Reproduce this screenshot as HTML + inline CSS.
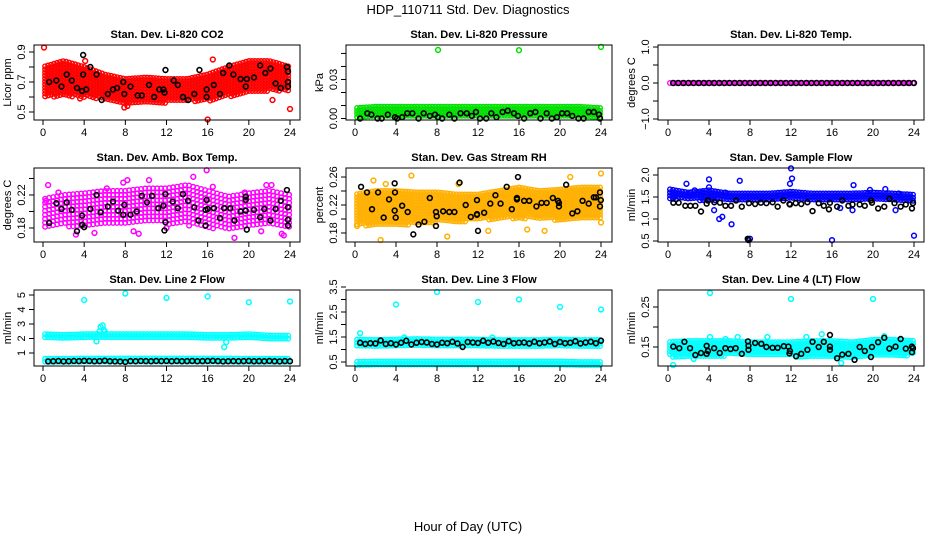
<!DOCTYPE html>
<html><head><meta charset="utf-8"><style>
body{margin:0;background:#fff}
svg{display:block;font-family:"Liberation Sans",sans-serif}
</style></head><body>
<svg id="c" width="936" height="540" viewBox="0 0 936 540">
<text x="468" y="14" text-anchor="middle" font-size="13">HDP_110711  Std. Dev. Diagnostics</text>
<text x="468" y="531" text-anchor="middle" font-size="13">Hour of Day (UTC)</text>
</svg>
<script>
// ---------- data ----------
const xTicks = [0,4,8,12,16,20,24];
const cloudHours = [0,2,4,6,8,10,12,14,16,18,20,22,24];

// P1 CO2
const co2Lo = [0.6,0.6,0.6,0.58,0.56,0.55,0.56,0.57,0.57,0.6,0.62,0.64,0.64];
const co2Hi = [0.8,0.84,0.8,0.75,0.72,0.73,0.72,0.72,0.75,0.8,0.84,0.84,0.8];
const co2OutX = [0.1,16,24,22.3,16.5,4.1,7.9,8.2,3.6];
const co2OutY = [0.93,0.45,0.52,0.58,0.85,0.84,0.53,0.54,0.59];
const co2BlkX = [0.6,1.3,1.8,2.3,2.8,3.3,3.8,3.9,3.9,4.2,4.6,5.2,5.7,6.3,6.8,7.2,7.8,7.9,8.5,9.2,9.6,10.3,10.8,11.3,11.7,11.8,11.9,12.7,13.1,13.6,14.1,14.7,15.2,15.9,15.9,16.6,17.2,17.5,18.1,18.5,19.2,19.7,19.8,20.5,21.1,21.6,22.1,22.6,23.1,23.7,23.8,23.8,23.8];
const co2BlkY = [0.70,0.71,0.67,0.75,0.71,0.66,0.64,0.75,0.88,0.65,0.80,0.75,0.58,0.62,0.65,0.66,0.70,0.62,0.67,0.61,0.61,0.68,0.60,0.65,0.65,0.63,0.78,0.71,0.68,0.60,0.58,0.62,0.78,0.65,0.60,0.68,0.62,0.76,0.81,0.75,0.72,0.67,0.72,0.73,0.81,0.76,0.79,0.69,0.66,0.80,0.77,0.70,0.67];

// P2 Pressure
const prLo = [0,0,0,0,0,0,0,0,0,0,0,0,0];
const prHi = [0.008,0.009,0.009,0.009,0.009,0.009,0.009,0.009,0.009,0.009,0.009,0.009,0.008];
const prOutX = [8.1,16,24];
const prOutY = [0.0527,0.0525,0.055];
const prBlkX = [0.5,1.2,1.6,2.2,2.6,3.2,3.9,4.1,4.6,5.1,5.6,6.2,6.7,7.3,7.8,8.1,8.5,9.2,9.7,10.3,10.9,11.4,11.8,12.2,12.8,13.3,13.8,14.4,14.9,15.5,15.9,16.5,17.1,17.6,18.1,18.7,19.2,19.7,20.2,20.7,21.2,21.8,22.3,22.8,23.3,23.8,23.9];
const prBlkY = [0.000,0.004,0.003,0.000,0.000,0.003,0.001,0.000,0.001,0.004,0.004,0.000,0.004,0.002,0.003,0.001,0.000,0.003,0.000,0.004,0.004,0.002,0.005,0.000,0.000,0.004,0.001,0.005,0.006,0.004,0.002,0.000,0.004,0.005,0.000,0.004,0.000,0.001,0.004,0.004,0.002,0.000,0.000,0.005,0.005,0.003,0.000];

// P3 Li-820 Temp
const tpLo = [0,0,0,0,0,0,0,0,0,0,0,0,0];
const tpHi = [0,0,0,0,0,0,0,0,0,0,0,0,0];
const tpBlkX = [0.5,1,1.5,2,2.5,3,3.5,4,4.5,5,5.5,6,6.5,7,7.5,8,8.5,9,9.5,10,10.5,11,11.5,12,12.5,13,13.5,14,14.5,15,15.5,16,16.5,17,17.5,18,18.5,19,19.5,20,20.5,21,21.5,22,22.5,23,23.5,24];
const tpBlkY = [0,0,0,0,0,0,0,0,0,0,0,0,0,0,0,0,0,0,0,0,0,0,0,0,0,0,0,0,0,0,0,0,0,0,0,0,0,0,0,0,0,0,0,0,0,0,0,0];

// P4 Amb box temp
const abLo = [0.18,0.182,0.18,0.183,0.185,0.188,0.185,0.183,0.18,0.178,0.18,0.182,0.18];
const abHi = [0.215,0.22,0.222,0.225,0.225,0.228,0.228,0.232,0.225,0.218,0.222,0.225,0.22];
const abOutX = [0.3,0.5,1.5,3.2,5.0,6.2,7.8,8.2,8.8,9.3,10.3,12.0,14.6,15.9,16.5,18.6,19.6,21.2,21.7,22.2,23.2,23.4];
const abOutY = [0.213,0.232,0.223,0.172,0.174,0.228,0.235,0.238,0.176,0.173,0.238,0.180,0.242,0.25,0.23,0.168,0.223,0.176,0.232,0.232,0.173,0.171];
const abBlkX = [0.6,1.3,1.8,2.3,2.8,3.3,3.8,3.8,4.0,4.6,5.2,5.6,6.3,6.8,7.3,7.8,7.9,8.5,9.1,9.6,10.1,10.6,11.2,11.7,11.8,11.9,11.9,12.6,13.1,13.6,14.1,14.7,15.1,15.8,15.8,16.0,15.9,16.6,17.2,17.6,18.2,18.6,19.2,19.7,19.7,19.7,19.8,20.5,21.1,21.5,22.1,22.6,23.1,23.7,23.8,23.8,23.8];
const abBlkY = [0.186,0.21,0.203,0.211,0.202,0.176,0.195,0.184,0.181,0.203,0.22,0.199,0.206,0.212,0.201,0.196,0.208,0.196,0.2,0.219,0.211,0.219,0.204,0.207,0.177,0.187,0.221,0.212,0.204,0.221,0.213,0.205,0.189,0.183,0.202,0.203,0.214,0.204,0.192,0.204,0.204,0.189,0.2,0.201,0.214,0.218,0.178,0.202,0.193,0.203,0.189,0.203,0.213,0.226,0.205,0.19,0.183];

// P5 Gas stream RH
const rhLo = [0.19,0.19,0.19,0.192,0.195,0.195,0.198,0.2,0.2,0.2,0.198,0.198,0.198];
const rhHi = [0.235,0.24,0.24,0.238,0.238,0.235,0.235,0.24,0.245,0.24,0.242,0.245,0.245];
const rhOutX = [2.5,5.5,24,21,9,13,0.2,24,18.5,1.8,3,10.1,16.8];
const rhOutY = [0.17,0.262,0.265,0.26,0.175,0.183,0.19,0.195,0.183,0.255,0.25,0.25,0.185];
const rhBlkX = [0.59,1.17,1.66,2.25,2.8,3.32,3.87,3.9,3.87,3.97,4.6,5.14,5.69,6.2,6.77,7.3,7.9,7.97,7.9,8.6,9.2,9.7,10.2,10.8,11.3,11.9,11.9,11.9,12.0,12.6,13.2,13.7,14.2,14.8,15.3,15.9,15.8,15.8,16.5,17.0,17.7,18.2,18.7,19.3,19.8,19.9,19.9,20.6,21.2,21.7,22.2,22.8,23.3,23.9,23.9,23.98,23.5];
const rhBlkY = [0.246,0.238,0.214,0.238,0.202,0.228,0.251,0.238,0.212,0.202,0.219,0.21,0.178,0.192,0.196,0.23,0.21,0.204,0.19,0.211,0.21,0.21,0.252,0.22,0.203,0.206,0.207,0.227,0.183,0.209,0.222,0.234,0.222,0.246,0.214,0.26,0.23,0.228,0.226,0.226,0.218,0.223,0.223,0.23,0.226,0.218,0.223,0.249,0.208,0.211,0.226,0.222,0.231,0.238,0.218,0.227,0.231];

// P6 Sample flow
const sfLo = [1.45,1.42,1.42,1.42,1.43,1.43,1.43,1.43,1.42,1.42,1.42,1.42,1.4];
const sfHi = [1.68,1.6,1.65,1.58,1.58,1.58,1.62,1.58,1.58,1.58,1.6,1.58,1.55];
const sfOutX = [1.8,2.2,2.6,3.3,4,4.0,4.5,5,5.3,5.6,6.2,7,12,12.1,11.9,16,16.8,18.1,18,19.7,21.2,22.2,22.5,24,8];
const sfOutY = [1.8,1.6,1.65,1.6,1.9,1.72,1.2,1.0,1.05,1.6,0.88,1.87,2.15,1.92,1.8,0.52,1.25,1.77,1.2,1.66,1.68,1.2,1.58,0.62,0.55];
const sfBlkX = [0.52,1.04,1.69,2.18,2.67,3.22,3.77,3.9,4.52,5.07,5.6,6.15,6.64,7.2,7.78,7.85,7.9,8.5,9.06,9.6,10.2,10.7,11.25,11.85,11.9,12.46,13.0,13.6,14.1,14.7,15.2,15.7,15.8,16.5,17.0,17.6,18.0,18.7,19.2,19.8,19.9,20.5,21.1,21.6,22.1,22.7,23.2,23.8,23.9];
const sfBlkY = [1.37,1.37,1.3,1.3,1.3,1.17,1.35,1.42,1.38,1.37,1.3,1.3,1.42,1.28,0.55,0.52,1.36,1.34,1.37,1.36,1.38,1.28,1.42,1.34,1.33,1.36,1.34,1.38,1.18,1.36,1.3,1.22,1.37,1.28,1.42,1.3,1.33,1.33,1.3,1.42,1.37,1.24,1.28,1.46,1.36,1.28,1.33,1.24,1.36];

// P7 Line 2 flow
const l2HiLo = [1.95,1.92,1.95,1.95,1.95,1.95,1.95,1.95,1.95,1.92,1.92,1.92,1.92];
const l2HiHi = [2.3,2.25,2.3,2.3,2.3,2.3,2.3,2.3,2.25,2.25,2.3,2.2,2.2];
const l2LoLo = [0.35,0.35,0.35,0.35,0.35,0.35,0.35,0.35,0.35,0.35,0.35,0.35,0.35];
const l2LoHi = [0.6,0.6,0.62,0.62,0.62,0.62,0.62,0.62,0.62,0.62,0.6,0.6,0.6];
const l2OutX = [4,8,12,16,20,24,5.5,5.6,5.8,5.9,6.0,5.2,17.6,17.8];
const l2OutY = [4.65,5.1,4.8,4.9,4.5,4.55,2.5,2.8,2.9,2.6,2.5,1.8,1.4,1.75];
const l2BlkX = [0.5,1,1.5,2,2.5,3,3.5,4,4.5,5,5.5,6,6.5,7,7.5,8,8.5,9,9.5,10,10.5,11,11.5,12,12.5,13,13.5,14,14.5,15,15.5,16,16.5,17,17.5,18,18.5,19,19.5,20,20.5,21,21.5,22,22.5,23,23.5,24];
const l2BlkY = [0.42,0.43,0.45,0.42,0.43,0.45,0.44,0.46,0.45,0.43,0.44,0.47,0.43,0.42,0.41,0.38,0.44,0.43,0.45,0.44,0.43,0.45,0.44,0.45,0.43,0.45,0.43,0.44,0.45,0.43,0.44,0.45,0.46,0.44,0.42,0.43,0.44,0.43,0.44,0.45,0.43,0.44,0.43,0.45,0.43,0.42,0.44,0.43];

// P8 Line 3 flow
const l3HiLo = [1.12,1.12,1.12,1.12,1.12,1.12,1.12,1.12,1.12,1.12,1.12,1.12,1.12];
const l3HiHi = [1.4,1.38,1.4,1.42,1.4,1.4,1.4,1.38,1.38,1.38,1.4,1.38,1.38];
const l3LoLo = [0.33,0.33,0.33,0.33,0.33,0.33,0.33,0.33,0.33,0.33,0.33,0.33,0.33];
const l3LoHi = [0.5,0.52,0.52,0.52,0.52,0.52,0.52,0.52,0.52,0.52,0.52,0.5,0.5];
const l3OutX = [0.5,4,8,12,16,20,24,4.8,13.4];
const l3OutY = [1.65,2.8,3.3,2.9,3.0,2.7,2.6,1.48,1.48];
const l3BlkX = [0.5,1,1.5,2,2.5,3,3.5,4,4.5,5,5.5,6,6.5,7,7.5,8,8.5,9,9.5,10,10.5,11,11.5,12,12.5,13,13.5,14,14.5,15,15.5,16,16.5,17,17.5,18,18.5,19,19.5,20,20.5,21,21.5,22,22.5,23,23.5,24];
const l3BlkY = [1.27,1.22,1.25,1.24,1.36,1.22,1.25,1.2,1.27,1.35,1.2,1.27,1.3,1.28,1.22,1.2,1.27,1.25,1.31,1.24,1.1,1.3,1.28,1.26,1.35,1.27,1.32,1.26,1.22,1.33,1.25,1.27,1.28,1.24,1.31,1.25,1.28,1.32,1.22,1.3,1.25,1.27,1.33,1.24,1.28,1.31,1.25,1.35];

// P9 Line 4 flow
const l4Lo = [0.125,0.125,0.125,0.128,0.128,0.128,0.125,0.125,0.122,0.122,0.125,0.125,0.13];
const l4Hi = [0.162,0.165,0.165,0.165,0.162,0.162,0.162,0.165,0.165,0.162,0.168,0.168,0.165];
const l4OutX = [0.5,4.1,12,20,4.1,5.6,6.8,9.7,13.5,15,21.1,16.9,2.5];
const l4OutY = [0.105,0.285,0.27,0.27,0.175,0.17,0.175,0.175,0.175,0.182,0.177,0.11,0.12];
const l4BlkX = [0.52,1.1,1.6,2.15,2.67,3.22,3.77,3.77,3.9,4.5,5.05,5.6,6.1,6.6,7.2,7.8,7.85,7.85,8.5,9.1,9.6,10.2,10.7,11.3,11.75,11.85,11.9,12.5,13.0,13.6,14.1,14.7,15.2,15.8,15.8,15.8,16.5,17.0,17.6,18.2,18.7,19.2,19.8,19.9,20.5,21.1,21.6,22.2,22.7,23.2,23.8,23.8,23.9];
const l4BlkY = [0.151,0.147,0.163,0.147,0.13,0.135,0.153,0.133,0.14,0.147,0.135,0.147,0.145,0.147,0.133,0.164,0.153,0.143,0.16,0.158,0.15,0.148,0.148,0.152,0.151,0.134,0.14,0.127,0.133,0.143,0.163,0.15,0.163,0.18,0.151,0.143,0.122,0.131,0.133,0.118,0.15,0.14,0.125,0.15,0.162,0.173,0.146,0.151,0.17,0.146,0.151,0.137,0.147];

// ---------- layout ----------
const NS = 'http://www.w3.org/2000/svg';
const svg = document.getElementById('c');
const colBox = [[34,300,43,290],[346,612,355,601],[658,924,668,914]];
const rowBox = [[45,120],[168,242],[290,366]];
function mk(tag, attrs, parent){const e=document.createElementNS(NS,tag);for(const k in attrs)e.setAttribute(k,attrs[k]);(parent||svg).appendChild(e);return e;}

const panels = [
 {slug:'co2',title:'Stan. Dev. Li-820 CO2',ylab:'Licor ppm',c:0,r:0,ymin:0.4467,ymax:0.9467,ticks:[0.5,0.6,0.7,0.8,0.9],labs:{0.5:'0.5',0.7:'0.7',0.9:'0.9'},col:'#ff0000',clouds:[[co2Lo,co2Hi]],outX:co2OutX,outY:co2OutY,bx:co2BlkX,by:co2BlkY},
 {slug:'pressure',title:'Stan. Dev. Li-820 Pressure',ylab:'kPa',c:1,r:0,ymin:-0.00115,ymax:0.0565,ticks:[0,0.01,0.02,0.03,0.04,0.05],labs:{0:'0.00',0.03:'0.03'},col:'#00e000',clouds:[[prLo,prHi]],outX:prOutX,outY:prOutY,bx:prBlkX,by:prBlkY},
 {slug:'li820-temp',title:'Stan. Dev. Li-820 Temp.',ylab:'degrees C',c:2,r:0,ymin:-1.028,ymax:1.056,ticks:[-1,-0.5,0,0.5,1],labs:{'-1':'\u22121.0',0:'0.0',1:'1.0'},col:'#ff00ff',clouds:[[tpLo,tpHi]],outX:[],outY:[],bx:tpBlkX,by:tpBlkY},
 {slug:'amb-box-temp',title:'Stan. Dev. Amb. Box Temp.',ylab:'degrees C',c:0,r:1,ymin:0.163,ymax:0.2527,ticks:[0.18,0.2,0.22,0.24],labs:{0.18:'0.18',0.22:'0.22'},col:'#ff00ff',clouds:[[abLo,abHi]],outX:abOutX,outY:abOutY,bx:abBlkX,by:abBlkY,step:4},
 {slug:'gas-stream-rh',title:'Stan. Dev. Gas Stream RH',ylab:'percent',c:1,r:1,ymin:0.1671,ymax:0.2729,ticks:[0.18,0.2,0.22,0.24,0.26],labs:{0.18:'0.18',0.22:'0.22',0.26:'0.26'},col:'#ffb000',clouds:[[rhLo,rhHi]],outX:rhOutX,outY:rhOutY,bx:rhBlkX,by:rhBlkY},
 {slug:'sample-flow',title:'Stan. Dev. Sample Flow',ylab:'ml/min',c:2,r:1,ymin:0.477,ymax:2.159,ticks:[0.5,1,1.5,2],labs:{0.5:'0.5',1:'1.0',1.5:'1.5',2:'2.0'},col:'#0000ff',clouds:[[sfLo,sfHi]],outX:sfOutX,outY:sfOutY,bx:sfBlkX,by:sfBlkY},
 {slug:'line2-flow',title:'Stan. Dev. Line 2 Flow',ylab:'ml/min',c:0,r:2,ymin:0.103,ymax:5.345,ticks:[1,2,3,4,5],labs:{1:'1',2:'2',3:'3',4:'4',5:'5'},col:'#00ffff',clouds:[[l2HiLo,l2HiHi],[l2LoLo,l2LoHi]],outX:l2OutX,outY:l2OutY,bx:l2BlkX,by:l2BlkY},
 {slug:'line3-flow',title:'Stan. Dev. Line 3 Flow',ylab:'ml/min',c:1,r:2,ymin:0.34,ymax:3.38,ticks:[0.5,1,1.5,2,2.5,3,3.5],labs:{0.5:'0.5',1.5:'1.5',2.5:'2.5',3.5:'3.5'},col:'#00ffff',clouds:[[l3HiLo,l3HiHi],[l3LoLo,l3LoHi]],outX:l3OutX,outY:l3OutY,bx:l3BlkX,by:l3BlkY},
 {slug:'line4-flow',title:'Stan. Dev. Line 4 (LT) Flow',ylab:'ml/min',c:2,r:2,ymin:0.1025,ymax:0.2925,ticks:[0.15,0.2,0.25],labs:{0.15:'0.15',0.25:'0.25'},col:'#00ffff',clouds:[[l4Lo,l4Hi]],outX:l4OutX,outY:l4OutY,bx:l4BlkX,by:l4BlkY}
];

function interp(arr, h){
  const i = Math.min(cloudHours.length-2, Math.max(0, Math.floor(h/2)));
  const t = (h - cloudHours[i])/(cloudHours[i+1]-cloudHours[i]);
  return arr[i] + (arr[i+1]-arr[i])*t;
}

panels.forEach(p=>{
  const [L,R,X0,X24] = colBox[p.c];
  const [T,B] = rowBox[p.r];
  const sx = h => X0 + (X24-X0)*h/24;
  const sy = v => B - (B-T)*(v-p.ymin)/(p.ymax-p.ymin);
  const g = mk('g',{});
  
  

  const title = mk('text',{x:(L+R)/2,y:T-7,'text-anchor':'middle','font-size':11,'font-weight':'bold'},g);
  title.textContent = p.title;
  
  

  const yl = mk('text',{x:0,y:0,'text-anchor':'middle','font-size':11,transform:`translate(${L-23},${(T+B)/2}) rotate(-90)`},g);
  yl.textContent = p.ylab;
  
  

  // cloud (main series envelope)
  const cg = mk('g',{fill:'none',stroke:p.col,'stroke-width':1.4},g);
  
  
  const st = p.step || 3;
  p.clouds.forEach(([lo,hi])=>{
    for(let px=sx(0.2); px<=sx(24); px+=st){
      const h = (px-X0)/(X24-X0)*24;
      const y1 = sy(interp(hi,h)), y2 = sy(interp(lo,h));
      for(let py=y1; py<=y2+0.01; py+=st){
        const c = mk('circle',{cx:px.toFixed(1),cy:py.toFixed(1),r:2.3},cg);
        
        
      }
    }
  });
  p.outX.forEach((x,i)=>{
    const c = mk('circle',{cx:sx(x),cy:sy(p.outY[i]),r:2.4,fill:'none',stroke:p.col,'stroke-width':1.5},g);
    
    
  });
  p.bx.forEach((x,i)=>{
    if(p.by[i]===undefined) return;
    const c = mk('circle',{cx:sx(x),cy:sy(p.by[i]),r:2.4,fill:'none',stroke:'#000','stroke-width':1.6},g);
    
    
  });

  // box
  const box = mk('rect',{x:L,y:T,width:R-L,height:B-T,fill:'none',stroke:'#000','stroke-width':1},g);
  
  

  // x axis
  xTicks.forEach(t=>{
    mk('line',{x1:sx(t),x2:sx(t),y1:B,y2:B+5,stroke:'#000'},g);
    const tx = mk('text',{x:sx(t),y:B+16,'text-anchor':'middle','font-size':11},g);
    tx.textContent = t;
    
    
  });
  // y axis
  p.ticks.forEach(t=>{
    mk('line',{x1:L-5,x2:L,y1:sy(t),y2:sy(t),stroke:'#000'},g);
    const lab = p.labs[t];
    if(lab!==undefined){
      const ty = mk('text',{x:0,y:0,'text-anchor':'middle','font-size':11,transform:`translate(${L-9},${sy(t)}) rotate(-90)`},g);
      ty.textContent = lab;
      
      
    }
  });
});
</script>
</body></html>
